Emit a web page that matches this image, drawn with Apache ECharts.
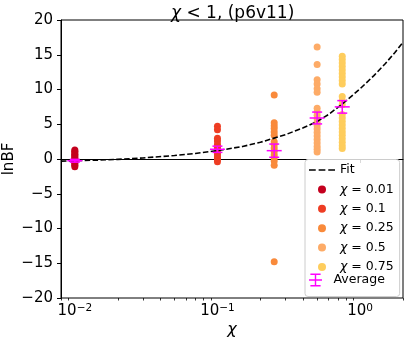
<!DOCTYPE html>
<html lang="en">
<head>
<meta charset="utf-8"/>
<title>lnBF vs chi</title>
<script src="https://cdn.jsdelivr.net/npm/echarts@6/dist/echarts.min.js"></script>
<style>
html, body { height:100%; margin:0; background:#fff; }
#main { width:407px; height:341px; }
</style>
</head>
<body>
<div id="main"></div>
<script>
// data
var chiValues = [0.01, 0.1, 0.25, 0.5, 0.75];
var chiNames = ['χ = 0.01', 'χ = 0.1', 'χ = 0.25', 'χ = 0.5', 'χ = 0.75'];
var chiColors = ['#c4001e', '#ee3d23', '#f98a3b', '#fdab67', '#fecd5d'];

var lnbf001 = [1.3, 1.1, 0.9, 0.7, 0.5, 0.3, 0.1, -0.1, -0.3, -0.5, -0.7, -0.9, -1.1];
var lnbf01 = [4.7, 4.2, 3.0, 2.6, 2.1, 1.7, 1.4, 1.0, 0.6, 0.3, 0.0, -0.4];
var lnbf025 = [9.2, 5.2, 4.8, 4.4, 3.9, 3.4, 2.5, 2.1, 1.6, 1.1, 0.6, 0.2, -0.3, -0.9, -14.8];
var lnbf05 = [16.1, 13.6, 11.4, 10.8, 10.1, 9.6, 7.3, 6.8, 6.3, 5.8, 5.3, 4.8, 4.3, 3.8, 3.3, 2.8, 2.3, 1.8, 1.4, 1.0];
var lnbf075 = [14.8, 14.3, 13.8, 13.3, 12.8, 12.3, 11.8, 11.3, 10.8, 9.0, 8.4, 7.8, 6.4, 5.9, 5.4, 4.9, 4.4, 3.9, 3.4, 2.9, 2.4, 1.9, 1.5];
var lnbfAll = [lnbf001, lnbf01, lnbf025, lnbf05, lnbf075];

var fitX = [0.008, 0.01, 0.015, 0.02, 0.03, 0.05, 0.07, 0.1, 0.15, 0.2, 0.3, 0.4, 0.5, 0.6, 0.75, 1.0, 1.25, 1.5, 1.75, 2.0];
var fitY = [-0.3, -0.25, -0.15, -0.05, 0.15, 0.5, 0.8, 1.2, 1.8, 2.4, 3.5, 4.5, 5.4, 6.4, 7.9, 10.1, 12.0, 13.7, 15.3, 16.8];

var avgMean = [-0.25, 1.4, 1.2, 5.9, 7.5];
var avgErr = [0.2, 0.45, 0.95, 0.85, 0.9];

var majorTicks = [0.01, 0.1, 1];
var minorTicks = [0.008, 0.009, 0.02, 0.03, 0.04, 0.05, 0.06, 0.07, 0.08, 0.09,
                  0.2, 0.3, 0.4, 0.5, 0.6, 0.7, 0.8, 0.9, 2];

var FONT = 'DejaVu Sans';

var myChart = echarts.init(document.getElementById('main'), null, {renderer: 'canvas'});

function supMinus(n) {
    return n < 0 ? '\u2212' + (-n) : '' + n;
}

function renderErrorBar(params, api) {
    var x = api.value(0), m = api.value(1), e = api.value(2);
    var c = api.coord([x, m]);
    var hi = api.coord([x, m + e]);
    var lo = api.coord([x, m - e]);
    var st = {stroke: '#ff00ff', lineWidth: 1.5};
    return {
        type: 'group',
        children: [
            {type: 'line', shape: {x1: c[0], y1: hi[1], x2: c[0], y2: lo[1]}, style: st},
            {type: 'line', shape: {x1: c[0] - 5, y1: hi[1], x2: c[0] + 5, y2: hi[1]}, style: st},
            {type: 'line', shape: {x1: c[0] - 5, y1: lo[1], x2: c[0] + 5, y2: lo[1]}, style: st},
            {type: 'line', shape: {x1: c[0] - 7.5, y1: c[1], x2: c[0] + 7.5, y2: c[1]}, style: st}
        ]
    };
}

var series = [];
for (var i = 0; i < chiValues.length; i++) {
    series.push({
        name: chiNames[i],
        type: 'scatter',
        symbolSize: 7,
        z: 2,
        itemStyle: {color: chiColors[i], opacity: 1},
        data: lnbfAll[i].map(function (v) { return [chiValues[i], v]; }),
        silent: true
    });
}
series.push({
    name: 'Fit',
    type: 'line',
    symbol: 'none',
    showSymbol: false,
    z: 3,
    lineStyle: {color: '#000', width: 1.6, type: [5.5, 2.4]},
    itemStyle: {color: '#000'},
    data: fitX.map(function (x, k) { return [x, fitY[k]]; })
});
series.push({
    name: 'Average',
    type: 'custom',
    z: 4,
    itemStyle: {color: '#ff00ff'},
    renderItem: renderErrorBar,
    encode: {x: 0, y: 1},
    data: chiValues.map(function (x, k) { return [x, avgMean[k], avgErr[k]]; })
});

var legendText = {
    fontFamily: FONT, fontSize: 12.5, color: '#000', lineHeight: 12,
    rich: {i: {fontFamily: FONT, fontStyle: 'italic', fontSize: 12.5, color: '#000'}}
};

var option = {
    animation: false,
    title: {
        text: '{i|χ} < 1, (p6v11)',
        left: 166,
        top: 0,
        textStyle: {
            fontFamily: FONT, fontSize: 17, fontWeight: 'normal', color: '#000',
            rich: {i: {fontFamily: FONT, fontStyle: 'italic', fontSize: 17, color: '#000'}}
        }
    },
    grid: {
        left: 61, right: 4, top: 20, bottom: 43,
        show: true, borderColor: '#000', borderWidth: 1,
        containLabel: false, outerBoundsMode: 'none'
    },
    legend: [{
        orient: 'vertical',
        left: 305,
        top: 159.5,
        padding: [4, 6, 23, 4],
        itemWidth: 26,
        itemHeight: 8,
        itemGap: 6.4,
        backgroundColor: 'rgba(255,255,255,0.85)',
        borderColor: '#cccccc',
        borderWidth: 1,
        borderRadius: 3,
        textStyle: legendText,
        formatter: function (name) { return name.replace('χ', '{i|χ}'); },
        data: [{name: 'Fit', icon: 'path://M0,0h7v1.5h-7z M10,0h7v1.5h-7z M20,0h7v1.5h-7z'}]
            .concat(chiNames.map(function (n) { return {name: n, icon: 'circle'}; }))
    }, {
        orient: 'vertical',
        left: 309,
        top: 273.5,
        padding: 0,
        itemWidth: 26,
        itemHeight: 13,
        textStyle: legendText,
        data: [{name: 'Average',
                icon: 'path://M1.5,0H12.5V1.5H1.5Z M6.25,0H7.75V14H6.25Z M1.5,12.5H12.5V14H1.5Z M0,6.25H14V7.75H0Z'}]
    }],
    xAxis: [{
        type: 'log',
        logBase: 10,
        min: 0.008,
        max: 2,
        name: 'χ',
        nameLocation: 'middle',
        nameGap: 24,
        nameMoveOverlap: false,
        nameTextStyle: {fontFamily: FONT, fontStyle: 'italic', fontSize: 16, color: '#000'},
        axisLine: {show: true, lineStyle: {color: '#000', width: 1}},
        axisTick: {show: true, inside: false, length: 4, lineStyle: {color: '#000'}, customValues: majorTicks},
        axisLabel: {
            customValues: majorTicks,
            margin: 5,
            formatter: function (v) {
                var p = Math.round(Math.log(v) / Math.LN10);
                return '{b|10}{s|' + supMinus(p) + '}';
            },
            rich: {
                b: {fontFamily: FONT, fontSize: 15, color: '#000', verticalAlign: 'bottom', lineHeight: 16},
                s: {fontFamily: FONT, fontSize: 10.5, color: '#000', verticalAlign: 'top', lineHeight: 16, padding: [0, 0, 8, 0]}
            }
        },
        splitLine: {show: false}
    }, {
        type: 'log',
        logBase: 10,
        min: 0.008,
        max: 2,
        position: 'bottom',
        axisLine: {show: false},
        axisTick: {show: true, inside: false, length: 2.5, lineStyle: {color: '#000', width: 0.8}, customValues: minorTicks},
        axisLabel: {show: false},
        splitLine: {show: false}
    }],
    yAxis: {
        type: 'value',
        min: -20,
        max: 20,
        interval: 5,
        name: 'lnBF',
        nameLocation: 'middle',
        nameGap: 44,
        nameMoveOverlap: false,
        nameTextStyle: {fontFamily: FONT, fontSize: 15, color: '#000'},
        axisLine: {show: true, lineStyle: {color: '#000', width: 1}},
        axisTick: {show: true, inside: false, length: 4, lineStyle: {color: '#000'}},
        axisLabel: {
            fontFamily: FONT, fontSize: 15, color: '#000', margin: 8,
            formatter: function (v) { return supMinus(v); }
        },
        splitLine: {show: false}
    },
    series: series
};

myChart.setOption(option);
</script>
</body>
</html>
